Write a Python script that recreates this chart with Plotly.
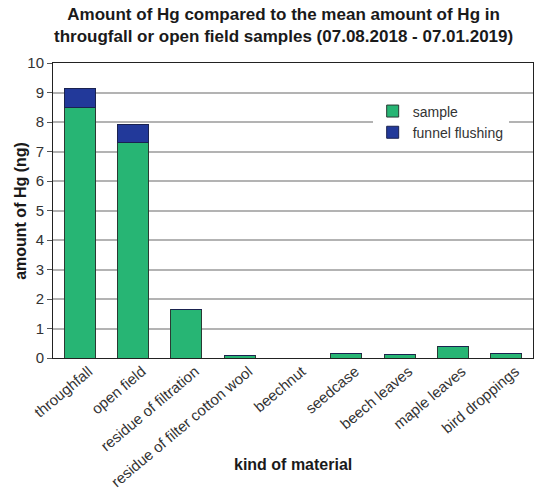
import plotly.graph_objects as go

categories = ["throughfall", "open field", "residue of filtration", "residue of filter cotton wool",
              "beechnut", "seedcase", "beech leaves", "maple leaves", "bird droppings"]
sample = [8.5, 7.3, 1.65, 0.1, 0.0, 0.16, 0.12, 0.4, 0.16]
funnel_flushing = [0.65, 0.6, 0, 0, 0, 0, 0, 0, 0]
y_ticks = [0, 1, 2, 3, 4, 5, 6, 7, 8, 9, 10]

fig = go.Figure()
fig.add_trace(go.Bar(x=categories, y=sample, name="sample",
                     marker=dict(color="#27b574", line=dict(color="#2a3a33", width=1))))
fig.add_trace(go.Bar(x=categories, y=funnel_flushing, name="funnel flushing",
                     marker=dict(color="#22399a", line=dict(color="#1a2250", width=1))))

fig.update_layout(
    barmode="stack",
    bargap=0.42,
    width=537, height=492,
    margin=dict(l=53, r=4, t=63, b=134, autoexpand=False),
    paper_bgcolor="white", plot_bgcolor="white",
    font=dict(family="Liberation Sans, Arial", color="#222"),
    legend=dict(x=0.666, y=0.89, xanchor="left", yanchor="top",
                bgcolor="white", borderwidth=0,
                font=dict(size=14, color="#333"),
                traceorder="normal", itemwidth=30, tracegroupgap=6),
    showlegend=True,
    annotations=[
        dict(text="<b>Amount of Hg compared to the mean amount of Hg in<br>througfall or open field samples (07.08.2018 - 07.01.2019)</b>",
             xref="paper", yref="paper", x=(283 - 53) / 480, y=1 + (63 - 25) / 295,
             xanchor="center", yanchor="middle", showarrow=False,
             font=dict(size=17, color="#1a1a1a")),
        dict(text="<b>kind of material</b>", xref="paper", yref="paper", x=0.5, y=-0.36,
             xanchor="center", yanchor="middle", showarrow=False,
             font=dict(size=16, color="#1a1a1a")),
        dict(text="<b>amount of Hg (ng)</b>", xref="paper", yref="paper", x=-0.068, y=0.5,
             xanchor="center", yanchor="middle", showarrow=False, textangle=-90,
             font=dict(size=16, color="#1a1a1a")),
    ],
)
fig.update_xaxes(
    showline=True, linecolor="#222", linewidth=1, mirror=True,
    tickangle=-40, tickfont=dict(size=15, color="#333"),
    ticks="", automargin=False, ticklabelshift=9, ticklabelstandoff=-2,
)
fig.update_yaxes(
    range=[0, 10], tickvals=y_ticks,
    showline=True, linecolor="#222", linewidth=1, mirror=True,
    showgrid=True, gridcolor="#b3b3b3", gridwidth=1.5,
    ticks="outside", ticklen=5, tickcolor="#555",
    tickfont=dict(size=15, color="#333"),
    zeroline=False, automargin=False,
)
fig.write_html("out.html", config={"displayModeBar": False},
               post_script="document.body.style.margin='0';")
